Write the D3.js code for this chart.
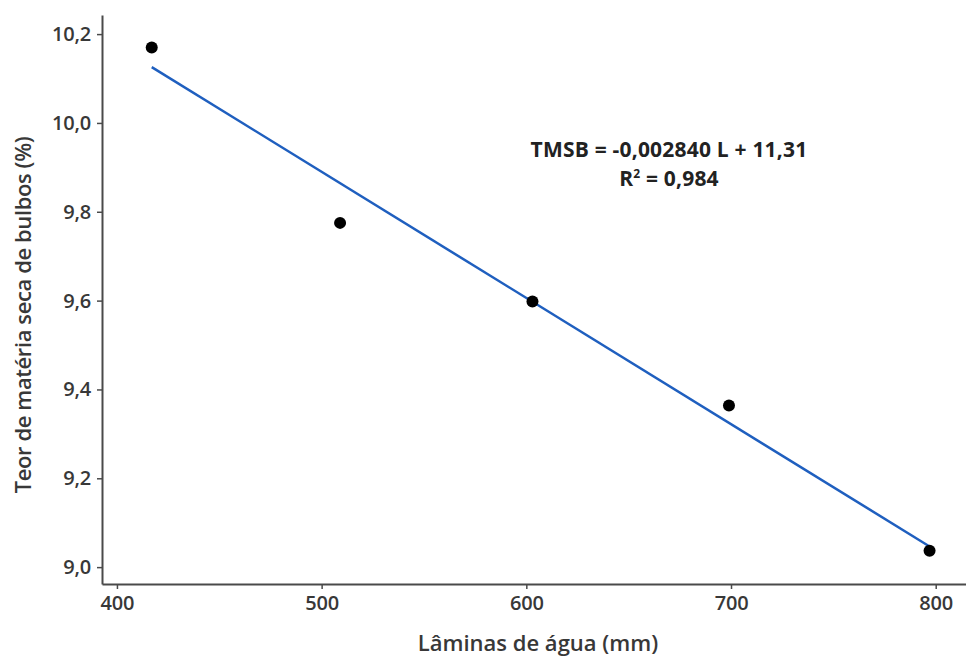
<!DOCTYPE html>
<html>
<head>
<meta charset="utf-8">
<script src="https://cdn.jsdelivr.net/npm/d3@7"></script>
<style>
  body { margin: 0; background: #fff; }
  text { font-family: "Open Sans", sans-serif; }
</style>
</head>
<body>
<svg id="chart"></svg>
<script>
const width = 966;
const height = 659;

// data
const laminas = [417, 509, 603, 699, 797];
const teor = [10.17, 9.775, 9.598, 9.364, 9.037];
const xTicks = [400, 500, 600, 700, 800];
const yTicks = [9.0, 9.2, 9.4, 9.6, 9.8, 10.0, 10.2];
const slope = -0.002840;
const intercept = 11.31;

const svg = d3.select("#chart")
  .attr("width", width)
  .attr("height", height);

const xScale = d3.scaleLinear().domain([392.7, 814.8]).range([102, 966]);
const yScale = d3.scaleLinear().domain([8.962, 10.243]).range([584, 15]);

const fmt = d => d3.format(".1f")(d).replace(".", ",");

// y axis
const yAxis = svg.append("g")
  .attr("transform", "translate(102,0)")
  .call(d3.axisLeft(yScale).tickValues(yTicks).tickFormat(fmt).tickSize(5).tickSizeOuter(0));

// x axis
const xAxis = svg.append("g")
  .attr("transform", "translate(0,584)")
  .call(d3.axisBottom(xScale).tickValues(xTicks).tickSize(5).tickSizeOuter(0));

[yAxis, xAxis].forEach(a => {
  a.select(".domain").attr("stroke", "#4a4a4a").attr("stroke-width", 2);
  a.selectAll(".tick line").attr("stroke", "#4a4a4a").attr("stroke-width", 1.5);
  a.selectAll(".tick text")
    .attr("fill", "#383838")
    .style("font-size", "20px")
    .style("font-weight", "600")
    .style("font-family", "'Open Sans', sans-serif")
    .attr("letter-spacing", "-0.2");
});
yAxis.selectAll(".tick text").attr("x", -11);
xAxis.selectAll(".tick text").attr("y", 12);

// regression line
const lineData = [d3.min(laminas), d3.max(laminas)].map(l => ({ x: l, y: slope * l + intercept }));
svg.append("line")
  .attr("x1", xScale(lineData[0].x))
  .attr("y1", yScale(lineData[0].y))
  .attr("x2", xScale(lineData[1].x))
  .attr("y2", yScale(lineData[1].y))
  .attr("stroke", "#1f5fbf")
  .attr("stroke-width", 2.5);

// points
svg.append("g")
  .selectAll("circle")
  .data(laminas.map((l, i) => ({ x: l, y: teor[i] })))
  .join("circle")
  .attr("cx", d => xScale(d.x))
  .attr("cy", d => yScale(d.y))
  .attr("r", 6)
  .style("fill", "#000");

// equation
const eq = svg.append("g")
  .attr("fill", "#222")
  .style("font-size", "21px")
  .style("font-weight", "bold")
  .attr("text-anchor", "middle");
eq.append("text").attr("x", 669).attr("y", 157).attr("letter-spacing", "0.2").text("TMSB = -0,002840 L + 11,31");
const r2 = eq.append("text").attr("x", 669).attr("y", 186).attr("letter-spacing", "0.2");
r2.append("tspan").text("R");
r2.append("tspan").attr("dy", -8).style("font-size", "12px").text("2");
r2.append("tspan").attr("dy", 8).text(" = 0,984");

// axis titles
svg.append("text")
  .attr("x", 538)
  .attr("y", 651)
  .attr("text-anchor", "middle")
  .attr("fill", "#383838")
  .style("font-size", "22px")
  .style("font-weight", "600")
  .attr("letter-spacing", "0")
  .text("Lâminas de água (mm)");

svg.append("text")
  .attr("transform", "translate(31,315) rotate(-90)")
  .attr("text-anchor", "middle")
  .attr("fill", "#383838")
  .style("font-size", "22px")
  .style("font-weight", "600")
  .attr("letter-spacing", "-0.4")
  .text("Teor de matéria seca de bulbos (%)");
</script>
</body>
</html>
